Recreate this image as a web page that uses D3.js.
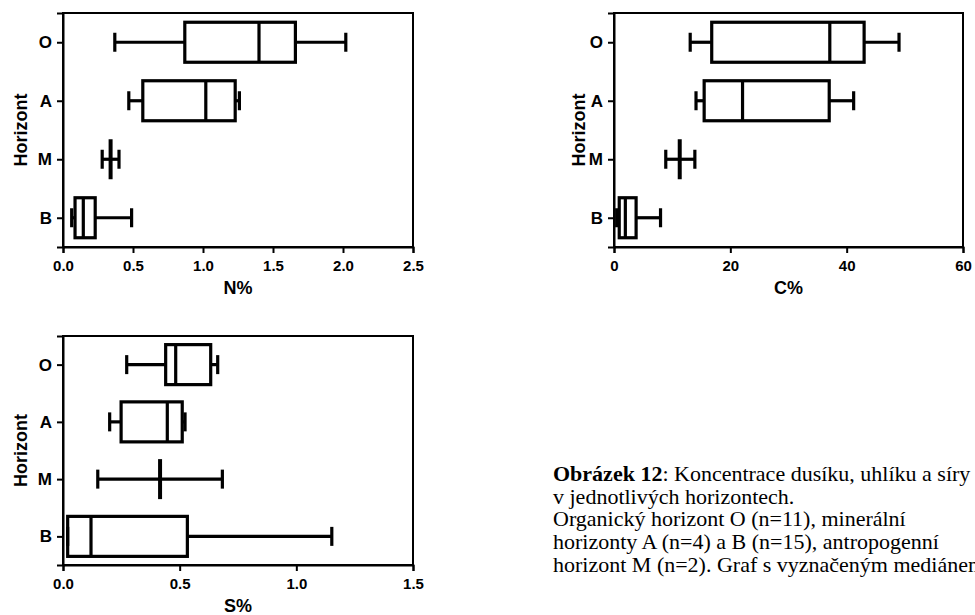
<!DOCTYPE html>
<meta charset="utf-8">
<style>
  body { margin: 0; background: #fff; }
  svg text { font-family: "Liberation Sans", Arial, sans-serif; font-weight: bold; fill: #000; }
  .caption { font-family: "Liberation Serif", "Times New Roman", serif; font-weight: normal; }
</style>
<svg width="975" height="615"></svg>
<script src="https://d3js.org/d3.v7.min.js"></script>
<script>
  // horizons, top to bottom
  var horizons = ["O", "A", "M", "B"];
  // [min, q1, median, q3, max] per horizon
  var nStats = [[0.37, 0.87, 1.40, 1.66, 2.02], [0.47, 0.57, 1.02, 1.23, 1.26], [0.28, 0.34, 0.34, 0.34, 0.40], [0.062, 0.086, 0.145, 0.23, 0.49]];
  var cStats = [[13.1, 16.8, 37.1, 43.0, 49.0], [14.1, 15.5, 22.1, 37.0, 41.2], [8.9, 11.3, 11.3, 11.3, 13.9], [0.46, 0.9, 1.95, 3.8, 8.0]];
  var sStats = [[0.273, 0.44, 0.483, 0.633, 0.663], [0.20, 0.249, 0.447, 0.511, 0.523], [0.149, 0.416, 0.416, 0.416, 0.683], [0.02, 0.02, 0.12, 0.533, 1.152]];
  var nTicks = [0, 0.5, 1.0, 1.5, 2.0, 2.5];
  var cTicks = [0, 20, 40, 60];
  var sTicks = [0, 0.5, 1.0, 1.5];
  var captionLines = [
    [["Obrázek 12", true], [": Koncentrace dusíku, uhlíku a síry", false]],
    [["v jednotlivých horizontech.", false]],
    [["Organický horizont O (n=11), minerální", false]],
    [["horizonty A (n=4) a B (n=15), antropogenní", false]],
    [["horizont M (n=2). Graf s vyznačeným mediánem", false]]
  ];

  var svg = d3.select("svg");

  function panel(stats, ticks, fmt, title, left, right, top, bottom, yTitleOff) {
    var g = svg.append("g");
    var x = d3.scaleLinear().domain([0, ticks[ticks.length - 1]]).range([left, right]);
    var y = d3.scalePoint().domain(horizons).range([top, bottom]).padding(0.5);
    var boxH = 40, capH = 19;

    // frame
    g.append("rect")
      .attr("x", left).attr("y", top)
      .attr("width", right - left).attr("height", bottom - top)
      .attr("fill", "none").attr("stroke", "#000").attr("stroke-width", 2);

    // axes
    var xa = g.append("g")
      .attr("transform", "translate(0," + bottom + ")")
      .call(d3.axisBottom(x).tickValues(ticks).tickSize(6).tickFormat(d3.format(fmt)));
    var ya = g.append("g")
      .attr("transform", "translate(" + left + ",0)")
      .call(d3.axisLeft(y).tickSize(6).tickPadding(5));
    [xa, ya].forEach(function(a) {
      a.select(".domain").attr("stroke-width", 2);
      a.selectAll(".tick line").attr("stroke-width", 2);
      a.attr("font-family", null);
    });
    xa.selectAll("text").attr("font-size", 15).attr("dy", 0).attr("y", 24);
    ya.selectAll("text").attr("font-size", 17);

    g.append("text")
      .attr("x", (left + right) / 2).attr("y", bottom + 47)
      .attr("text-anchor", "middle").attr("font-size", 18)
      .text(title);
    g.append("text")
      .attr("transform", "translate(" + (left - yTitleOff) + "," + ((top + bottom) / 2) + ") rotate(-90)")
      .attr("text-anchor", "middle").attr("font-size", 18)
      .text("Horizont");

    var b = g.selectAll(".box").data(stats).enter().append("g")
      .attr("transform", function(d, i) { return "translate(0," + y(horizons[i]) + ")"; })
      .attr("stroke", "#000").attr("stroke-width", 3.2).attr("fill", "none");
    // whiskers
    b.append("line").attr("x1", function(d) { return x(d[0]); }).attr("x2", function(d) { return x(d[1]); });
    b.append("line").attr("x1", function(d) { return x(d[3]); }).attr("x2", function(d) { return x(d[4]); });
    b.append("line").attr("x1", function(d) { return x(d[0]); }).attr("x2", function(d) { return x(d[0]); })
      .attr("y1", -capH / 2).attr("y2", capH / 2);
    b.append("line").attr("x1", function(d) { return x(d[4]); }).attr("x2", function(d) { return x(d[4]); })
      .attr("y1", -capH / 2).attr("y2", capH / 2);
    // box
    b.filter(function(d) { return d[3] > d[1]; }).append("rect")
      .attr("x", function(d) { return x(d[1]); }).attr("width", function(d) { return x(d[3]) - x(d[1]); })
      .attr("y", -boxH / 2).attr("height", boxH);
    // median
    b.append("line").attr("x1", function(d) { return x(d[2]); }).attr("x2", function(d) { return x(d[2]); })
      .attr("y1", -boxH / 2).attr("y2", boxH / 2)
      .attr("stroke-width", function(d) { return d[3] > d[1] ? 3.2 : 4; });
  }

  panel(nStats, nTicks, ".1f", "N%", 63, 413, 13, 247, 36);
  panel(cStats, cTicks, "d", "C%", 614, 963, 13, 247, 29);
  panel(sStats, sTicks, ".1f", "S%", 63, 413, 336, 565, 36);

  var cap = svg.append("text").attr("class", "caption").attr("font-size", 22);
  captionLines.forEach(function(line, i) {
    var t = cap.append("tspan").attr("x", 553).attr("y", 481 + i * 22.7);
    line.forEach(function(part, j) {
      var s = j === 0 ? t : cap.append("tspan");
      s.text(part[0]).attr("font-weight", part[1] ? "bold" : "normal");
    });
  });
</script>
